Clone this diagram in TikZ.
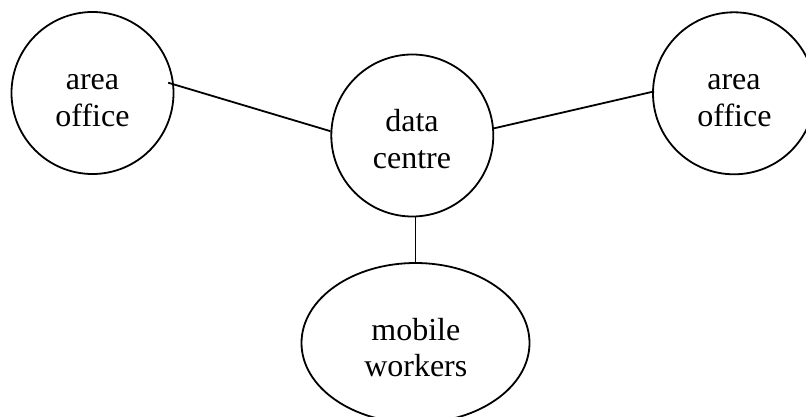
\documentclass[tikz,border=0pt]{standalone}
\usepackage{fontspec}
\setmainfont{Liberation Serif}
\usetikzlibrary{shapes.geometric}
\begin{document}
\begin{tikzpicture}[x=1pt,y=-1pt,
  site/.style={circle,draw=black,line width=1.8pt,minimum size=162pt,inner sep=0pt},
  crowd/.style={ellipse,draw=black,line width=1.8pt,minimum width=228pt,minimum height=160pt,inner sep=0pt},
  link/.style={draw=black,line width=1.8pt},
  word/.style={anchor=base,inner sep=0pt,font=\fontsize{32pt}{36.7pt}\selectfont}]
\useasboundingbox (0,0) rectangle (806,417);
\clip (0,0) rectangle (806,417);

% sites
\node[site] (lo) at (92.5,93) {};
\node[site] (dc) at (412.3,135.5) {};
\node[site] (ro) at (734,93.3) {};
\node[crowd] (mw) at (415.5,343) {};

% labels
\node[word] (lo1) at (92.5,90) {area};
\node[word] (lo2) at (92.5,126.7) {office};
\node[word] (dc1) at (412,131.7) {data};
\node[word] (dc2) at (412,168.3) {centre};
\node[word] (ro1) at (734,90) {area};
\node[word] (ro2) at (734.5,126.7) {office};
\node[word] (mw1) at (415.8,340) {mobile};
\node[word] (mw2) at (415.8,376.7) {workers};

% connectors
\draw[link,shorten <=-6pt] (lo.6) -- (dc.177.3);
\draw[link,shorten >=-2pt] (dc.5.3) -- (ro.179);
\draw[link] (mw.north) -- (mw.north |- dc.south);
\end{tikzpicture}
\end{document}
